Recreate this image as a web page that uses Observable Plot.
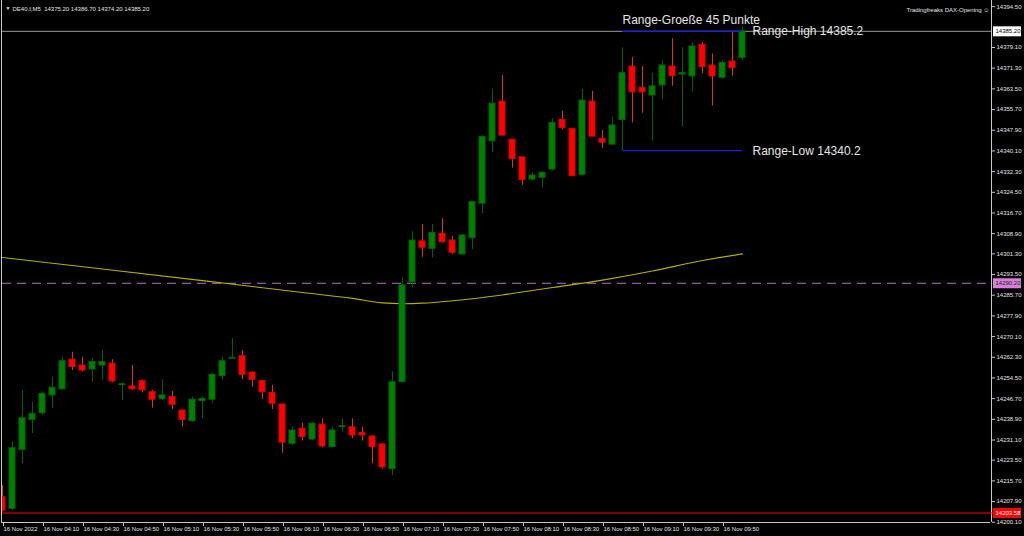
<!DOCTYPE html>
<html>
<head>
<meta charset="utf-8">
<script src="https://cdn.jsdelivr.net/npm/d3@7"></script>
<script src="https://cdn.jsdelivr.net/npm/@observablehq/plot@0.6"></script>
<style>
  html, body { margin: 0; padding: 0; background: #000; }
  #chart svg { display: block; }
</style>
</head>
<body>
<div id="chart"></div>
<script>
// ---- data (M5 candles, 16 Nov 2022, DE40.f) ----
const opens  = [14209.5,14205.2,14227.4,14238.7,14241.2,14247.9,14250.2,14261.4,14259.2,14257.7,
                14259.2,14259.9,14251.8,14251.3,14253.3,14249.1,14246.6,14247.3,14242.2,14238.2,
                14245.8,14246.3,14255.2,14261.8,14262.7,14256.5,14253.3,14248.9,14244.5,14229.7,
                14235.3,14231.3,14236.9,14228.4,14236.0,14235.9,14233.8,14232.4,14229.4,14220.2,
                14252.9,14290.6,14306.0,14303.2,14308.9,14306.3,14301.1,14307.2,14320.2,14343.7,
                14358.7,14344.3,14337.7,14329.3,14330.0,14333.1,14351.8,14348.4,14331.1,14358.7,
                14344.7,14342.5,14351.8,14371.9,14363.9,14361.0,14364.8,14371.9,14368.9,14368.2,
                14380.1,14372.3,14367.7,14373.8,14375.2];
const highs  = [14213.9,14230.3,14249.8,14245.4,14249.1,14254.8,14262.3,14264.2,14262.3,14261.7,
                14264.9,14261.4,14252.5,14259.2,14253.8,14249.8,14253.8,14249.4,14242.5,14247.3,
                14247.3,14256.1,14262.3,14269.3,14264.9,14256.9,14253.6,14251.7,14244.5,14235.9,
                14237.5,14237.8,14239.1,14235.7,14239.1,14239.1,14235.9,14232.8,14229.7,14256.9,
                14292.3,14309.7,14312.4,14312.4,14314.5,14307.8,14308.6,14320.8,14345.9,14363.3,
                14368.5,14344.3,14337.7,14331.7,14332.1,14352.2,14355.1,14348.4,14363.3,14362.6,
                14347.8,14352.8,14379.0,14375.4,14371.9,14369.4,14374.2,14382.4,14379.0,14380.9,
                14380.9,14376.7,14374.2,14385.2,14386.7];
const lows   = [14204.0,14204.5,14222.1,14233.5,14240.4,14243.1,14250.0,14257.3,14256.7,14252.9,
                14253.6,14252.7,14246.0,14249.8,14248.8,14243.1,14246.0,14242.6,14235.9,14237.8,
                14239.1,14244.8,14253.6,14261.7,14253.8,14251.0,14246.4,14242.6,14226.1,14229.0,
                14230.7,14230.9,14228.2,14228.2,14234.1,14231.6,14230.7,14222.1,14220.2,14217.7,
                14252.9,14288.5,14300.0,14299.7,14305.3,14301.1,14300.7,14302.9,14316.4,14339.6,
                14345.9,14333.6,14327.1,14328.7,14326.1,14332.5,14348.1,14330.6,14331.1,14345.5,
                14341.1,14342.1,14340.2,14350.6,14354.3,14343.8,14359.4,14364.5,14349.1,14362.2,
                14369.2,14357.0,14367.0,14368.3,14374.2];
const closes = [14204.5,14228.0,14239.3,14241.0,14248.5,14250.8,14260.8,14258.6,14257.3,14260.5,
                14260.5,14253.2,14252.1,14250.2,14249.8,14246.3,14247.9,14244.4,14238.7,14246.3,
                14246.6,14255.7,14260.8,14262.1,14255.7,14253.8,14249.1,14244.8,14230.1,14234.7,
                14232.2,14237.2,14228.7,14234.7,14236.3,14232.8,14232.8,14228.4,14220.8,14252.9,
                14289.4,14306.3,14303.6,14309.2,14305.7,14301.7,14308.2,14320.8,14345.3,14357.9,
                14345.9,14337.0,14329.2,14330.8,14331.9,14350.7,14348.7,14330.6,14359.1,14345.5,
                14343.2,14349.7,14369.4,14362.2,14362.2,14364.4,14372.3,14368.3,14369.4,14379.5,
                14371.7,14368.2,14373.3,14371.3,14385.2];

// moving average read at sampled bars
const maBars   = [0, 10, 20, 30, 35, 38, 40, 42, 45, 50, 55, 60, 65, 70, 74];
const maValues = [14299.9,14295.6,14291.2,14286.7,14284.5,14282.8,14282.5,14282.7,14283.6,14285.8,14288.6,14291.4,14294.8,14298.8,14301.3];

// x-axis tick labels (every 4th bar)
const timeTickBars   = [0,4,8,12,16,20,24,28,32,36,40,44,48,52,56,60,64,68,72];
const timeTickLabels = ["16 Nov 2022","16 Nov 04:10","16 Nov 04:30","16 Nov 04:50","16 Nov 05:10","16 Nov 05:30",
                        "16 Nov 05:50","16 Nov 06:10","16 Nov 06:30","16 Nov 06:50","16 Nov 07:10","16 Nov 07:30",
                        "16 Nov 07:50","16 Nov 08:10","16 Nov 08:30","16 Nov 08:50","16 Nov 09:10","16 Nov 09:30","16 Nov 09:50"];

// price axis tick labels
const priceTicks = [14394.50,14379.10,14371.30,14363.50,14355.70,14347.90,14340.10,14332.30,14324.50,
                    14316.70,14308.90,14301.30,14293.50,14285.70,14277.90,14270.10,14262.30,14254.50,
                    14246.70,14238.90,14231.10,14223.50,14215.70,14207.90,14200.10];

// levels & range
const bidPrice    = 14385.20;
const pinkLevel   = 14290.20;
const redLevel    = 14203.58;
const rangeStart  = 62;
const rangeEnd    = 74;
const rangeHigh   = 14385.2;
const rangeLow    = 14340.2;
const rangeTitle  = ["Range-Groeße 45 Punkte"];
const headerText  = ["DE40.f,M5  14375.20 14386.70 14374.20 14385.20"];
const brandText   = ["Tradingfreaks DAX-Opening ☺"];

// ---- build ----
const candles = opens.map((o, i) => ({k: i, open: o, high: highs[i], low: lows[i], close: closes[i], up: closes[i] >= o}));
const ma = maBars.map((k, i) => ({k, v: maValues[i]}));

const GREEN = "#008000", GREEN_EDGE = "#006a00", GREEN_WICK = "#006400";
const RED = "#ff0000", RED_EDGE = "#e00000", RED_WICK = "#d8361a";
const FG = "#e6e6e6";

const chart = Plot.plot({
  width: 1024,
  height: 536,
  marginTop: 0,
  marginLeft: 2,
  marginRight: 33,
  marginBottom: 14,
  style: {background: "#000", color: FG, fontFamily: "Liberation Sans, Arial, sans-serif"},
  x: {domain: [0, 98.9], axis: null, label: null},
  y: {domain: [14200.0, 14396.82], axis: null, label: null},
  marks: [
    // horizontal level lines
    Plot.ruleY([pinkLevel], {stroke: "#bb6cc8", strokeDasharray: "9,6", strokeWidth: 1}),
    Plot.ruleY([redLevel], {stroke: "#ff0000", strokeWidth: 1}),
    Plot.ruleY([bidPrice], {stroke: "#9a9a9a", strokeWidth: 1}),
    // moving average
    Plot.line(ma, {x: "k", y: "v", stroke: "#b0b000", strokeWidth: 1.1, curve: "monotone-x", clip: true}),
    // wicks
    Plot.ruleX(candles, {x: "k", y1: "low", y2: "high", stroke: d => d.up ? GREEN_WICK : RED_WICK, strokeWidth: 1, clip: true}),
    // bodies
    Plot.rect(candles, {
      x1: d => d.k - 0.3, x2: d => d.k + 0.3, y1: "open", y2: "close",
      fill: d => d.up ? GREEN : RED, stroke: d => d.up ? GREEN_EDGE : RED_EDGE, strokeWidth: 1, clip: true
    }),
    // range lines
    Plot.ruleY([rangeHigh], {x1: rangeStart, x2: rangeEnd, stroke: "#1e1ee6", strokeWidth: 1.3}),
    Plot.ruleY([rangeLow], {x1: rangeStart, x2: rangeEnd, stroke: "#1e1ee6", strokeWidth: 1.3}),
    // range labels
    Plot.text(rangeTitle, {x: rangeStart, y: rangeHigh, text: d => d, dy: -11, textAnchor: "start", fill: FG, fontSize: 12}),
    Plot.text([rangeHigh], {x: rangeEnd, y: d => d, text: d => "Range-High " + d.toFixed(1), dx: 10, textAnchor: "start", fill: FG, fontSize: 12}),
    Plot.text([rangeLow], {x: rangeEnd, y: d => d, text: d => "Range-Low " + d.toFixed(1), dx: 10, textAnchor: "start", fill: FG, fontSize: 12}),
    // frame (left, right, bottom)
    Plot.ruleX([0], {stroke: "#c8c8c8", dx: -1}),
    Plot.ruleX([98.9], {stroke: "#c8c8c8"}),
    Plot.ruleY([14200.0], {stroke: "#c8c8c8", x1: 0, x2: 98.9, dx: -1}),
    // axes
    Plot.axisY({anchor: "right", label: null, ticks: priceTicks, tickFormat: d => d.toFixed(2), tickSize: 3, tickPadding: 2, fontSize: 6, stroke: "#c8c8c8", fill: FG}),
    Plot.axisX({anchor: "bottom", label: null, ticks: timeTickBars, tickFormat: (d, i) => timeTickLabels[i], tickSize: 4, tickPadding: 0, fontSize: 6, textAnchor: "start", dx: 1, stroke: "#c8c8c8", fill: FG}),
    // price boxes on the axis
    Plot.ruleY([bidPrice], {x1: 99.1, x2: 101.9, stroke: "#ffffff", strokeWidth: 10}),
    Plot.text([bidPrice], {x: 99.3, y: d => d, text: d => d.toFixed(2), textAnchor: "start", fill: "#000", fontSize: 6}),
    Plot.ruleY([pinkLevel], {x1: 99.1, x2: 101.9, stroke: "#d97fd9", strokeWidth: 10}),
    Plot.text([pinkLevel], {x: 99.3, y: d => d, text: d => d.toFixed(2), textAnchor: "start", fill: "#202020", fontSize: 6}),
    Plot.ruleY([redLevel], {x1: 98.9, x2: 99.1, stroke: "#ff0000", strokeWidth: 1}),
    Plot.ruleY([redLevel], {x1: 99.1, x2: 101.9, stroke: "#ff0000", strokeWidth: 10}),
    Plot.text([redLevel], {x: 99.3, y: d => d, text: d => d.toFixed(2), textAnchor: "start", fill: "#fff", fontSize: 6}),
    // header
    Plot.text(["▼"], {frameAnchor: "top-left", text: d => d, dx: 3, dy: 6, textAnchor: "start", fill: FG, fontSize: 5}),
    Plot.text(headerText, {frameAnchor: "top-left", text: d => d, dx: 10, dy: 6, textAnchor: "start", fill: FG, fontSize: 6}),
    Plot.text(brandText, {frameAnchor: "top-right", text: d => d, dx: -2, dy: 7, textAnchor: "end", fill: FG, fontSize: 6})
  ]
});

document.getElementById("chart").appendChild(chart);
</script>
</body>
</html>
